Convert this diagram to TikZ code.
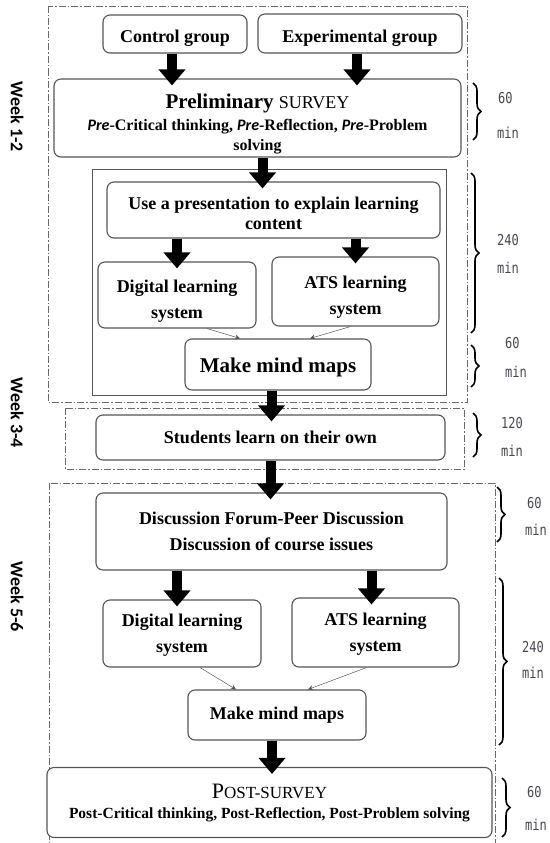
\documentclass[tikz,border=0pt]{standalone}
\usepackage{fontspec}
\setmainfont{Liberation Serif}
\newfontfamily\weekfont{Carlito}
\newfontfamily\minfont[FakeStretch=0.8]{DejaVu Sans Mono}
\usepackage{tikz}
\usetikzlibrary{arrows.meta, positioning, calc, decorations.pathreplacing}
\usepackage{xcolor}
\definecolor{boxline}{RGB}{85, 85, 85}
\definecolor{frameline}{RGB}{105, 105, 105}
\definecolor{mingray}{RGB}{70, 70, 80}
\newcommand{\dropstrut}[1]{\rule{0pt}{#1}}
\tikzset{
    stagebox/.style={rectangle, rounded corners=7pt, draw=boxline, line width=1.1pt, fill=white, align=center, inner sep=0pt, font=\bfseries\fontsize{18}{26}\selectfont},
    lessonframe/.style={rectangle, draw=boxline, line width=0.9pt, inner sep=0pt},
    weekframe/.style={draw=frameline, line width=0.9pt, dash pattern=on 7pt off 2pt on 1.5pt off 2pt},
    blockarrow/.style={line width=10pt, -{Triangle[length=16pt, width=26pt]}, shorten >=-7pt},
    thinarrow/.style={line width=0.5pt, draw=boxline, -{Stealth[length=5pt, width=5pt]}},
    timebrace/.style={decorate, decoration={brace, amplitude=8pt}, line width=1.6pt},
    minlabel/.style={anchor=west, inner sep=0pt, text=mingray, font=\minfont\fontsize{15}{15}\selectfont},
    weeklabel/.style={rotate=-90, inner sep=0pt, font=\weekfont\bfseries\fontsize{18}{18}\selectfont}
}

\begin{document}
\begin{tikzpicture}[x=1pt, y=-1pt]
    \useasboundingbox (0,0) rectangle (549,843);
    \clip (0,0) rectangle (549,843);
    % week frames
    \draw[weekframe] (48,6) rectangle (467,402);
    \draw[weekframe] (65,408) rectangle (464,469);
    \draw[weekframe] (49,483) rectangle (495,860);
    \node[weeklabel] (wkA) at (17,117) {Week 1-2};
    \node[weeklabel] (wkB) at (17,413) {Week 3-4};
    \node[weeklabel] (wkC) at (17,597) {Week 5-6};

    % week 1-2
    \node[stagebox, minimum width=144, minimum height=38] (ctrl) at (175,34) {\dropstrut{20pt}Control group};
    \node[stagebox, minimum width=204, minimum height=39] (expr) at (360,33.5) {\dropstrut{22pt}Experimental group};
    \node[stagebox, minimum width=407, minimum height=78, font=\bfseries\fontsize{16}{20}\selectfont] (presurvey) at (257.5,118)
        {\dropstrut{27pt}{\fontsize{21}{22}\selectfont Preliminary \mdseries\fontsize{18}{22}\selectfont SURVEY}\\[2pt]
         {\weekfont\itshape Pre}-Critical thinking, {\weekfont\itshape Pre}-Reflection, {\weekfont\itshape Pre}-Problem\\
         solving};
    \node[lessonframe, minimum width=354, minimum height=226] (lesson) at (269,282) {};
    \node[stagebox, minimum width=333, minimum height=56, font=\bfseries\fontsize{18}{20}\selectfont] (present) at (273.5,210)
        {\dropstrut{18.5pt}Use a presentation to explain learning\\content};
    \node[stagebox, minimum width=158, minimum height=66] (digitalA) at (177,295) {\dropstrut{24pt}Digital learning\\system};
    \node[stagebox, minimum width=167, minimum height=69] (atsA) at (355.5,291.5) {\dropstrut{24pt}ATS learning\\system};
    \node[stagebox, minimum width=186, minimum height=51, font=\bfseries\fontsize{21}{24}\selectfont] (mapsA) at (278,364.5) {\dropstrut{20.5pt}Make mind maps};

    % week 3-4
    \node[stagebox, minimum width=349, minimum height=45] (selfstudy) at (270.5,437.5) {Students learn on their own};

    % week 5-6
    \node[stagebox, minimum width=351, minimum height=77] (forum) at (271.5,531.5)
        {Discussion Forum-Peer Discussion\\Discussion of course issues};
    \node[stagebox, minimum width=158, minimum height=67] (digitalB) at (182,633.5) {\dropstrut{16pt}Digital learning\\system};
    \node[stagebox, minimum width=167, minimum height=69] (atsB) at (375.5,632.5) {\dropstrut{16pt}ATS learning\\system};
    \node[stagebox, minimum width=178, minimum height=50] (mapsB) at (277,715) {Make mind maps};
    \node[stagebox, minimum width=445, minimum height=70, font=\bfseries\fontsize{15.5}{20}\selectfont] (postsurvey) at (269.5,802.5)
        {{\mdseries\fontsize{22}{22}\selectfont P\fontsize{17}{22}\selectfont OST-SURVEY}\\
         Post-Critical thinking, Post-Reflection, Post-Problem solving};

    % block arrows
    \draw[blockarrow] ([xshift=-3pt]ctrl.south) -- ([xshift=-3pt]ctrl.south |- presurvey.north);
    \draw[blockarrow] ([xshift=-3pt]expr.south) -- ([xshift=-3pt]expr.south |- presurvey.north);
    \draw[blockarrow] ([xshift=5pt]presurvey.south) -- ([xshift=5pt]presurvey.south |- present.north);
    \draw[blockarrow] (digitalA.north |- present.south) -- (digitalA.north);
    \draw[blockarrow] (atsA.north |- present.south) -- (atsA.north);
    \draw[blockarrow] ([xshift=1pt]selfstudy.north |- mapsA.south) -- ([xshift=1pt]selfstudy.north);
    \draw[blockarrow] (selfstudy.south) -- (selfstudy.south |- forum.north);
    \draw[blockarrow] ([xshift=-5pt]digitalB.north |- forum.south) -- ([xshift=-5pt]digitalB.north);
    \draw[blockarrow] ([xshift=-4pt]atsB.north |- forum.south) -- ([xshift=-4pt]atsB.north);
    \draw[blockarrow] ([xshift=-5pt]mapsB.south) -- ([xshift=-5pt]mapsB.south |- postsurvey.north);

    % thin arrows
    \draw[thinarrow] ([xshift=30pt]digitalA.south) -- ([xshift=-38pt]mapsA.north);
    \draw[thinarrow] ([xshift=-5pt]atsA.south) -- ([xshift=32pt]mapsA.north);
    \draw[thinarrow] ([xshift=18pt]digitalB.south) -- ([xshift=-41pt]mapsB.north);
    \draw[thinarrow] ([xshift=-9pt]atsB.south) -- ([xshift=31pt]mapsB.north);

    % time braces
    \draw[timebrace] (473,83) -- (473,140);
    \node[minlabel] (tA) at (498,98) {60};
    \node[minlabel] (tAm) at (497,133) {min};
    \draw[timebrace] (471,173) -- (471,333);
    \node[minlabel] (tB) at (497,240) {240};
    \node[minlabel] (tBm) at (497,268) {min};
    \draw[timebrace] (471,345) -- (471,387);
    \node[minlabel] (tC) at (505,343) {60};
    \node[minlabel] (tCm) at (505,372) {min};
    \draw[timebrace] (473,413) -- (473,457);
    \node[minlabel] (tD) at (501,423) {120};
    \node[minlabel] (tDm) at (501,451) {min};
    \draw[timebrace] (497,487) -- (497,542);
    \node[minlabel] (tE) at (527,503) {60};
    \node[minlabel] (tEm) at (525,530) {min};
    \draw[timebrace] (499,578) -- (499,745);
    \node[minlabel] (tF) at (522,647) {240};
    \node[minlabel] (tFm) at (522,673) {min};
    \draw[timebrace] (502,778) -- (502,837);
    \node[minlabel] (tG) at (527,792) {60};
    \node[minlabel] (tGm) at (525,825) {min};
\end{tikzpicture}
\end{document}
